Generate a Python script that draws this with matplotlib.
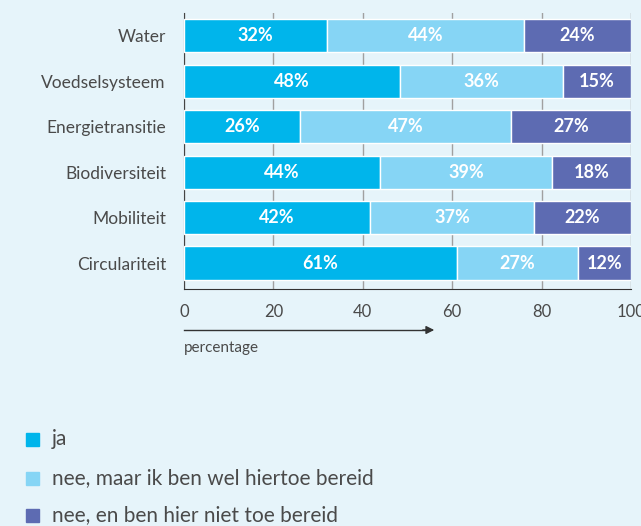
import matplotlib.pyplot as plt
from matplotlib.patches import Rectangle

plt.rcParams['font.family'] = ['Lato', 'DejaVu Sans']

categories = ["Water", "Voedselsysteem", "Energietransitie", "Biodiversiteit", "Mobiliteit", "Circulariteit"]
ja = [32.0, 48.4, 26.0, 43.8, 41.6, 61.1]
nee_bereid = [44.1, 36.4, 47.2, 38.6, 36.7, 27.0]
nee_niet = [23.9, 15.2, 26.8, 17.6, 21.7, 11.9]
series_names = ["ja", "nee, maar ik ben wel hiertoe bereid", "nee, en ben hier niet toe bereid"]
colors = ["#00b5eb", "#86d5f5", "#5d6bb2"]
bg = "#e6f4fa"
txt = "#4a4a4a"

fig = plt.figure(figsize=(6.41, 5.26), dpi=100, facecolor=bg)
ax = fig.add_axes([184/641, 1-289/526, (631-184)/641, (289-13)/526])
ax.set_facecolor(bg)

ypos = [len(categories)-1-i for i in range(len(categories))]
left = [0]*len(categories)
for vals, col in zip([ja, nee_bereid, nee_niet], colors):
    ax.barh(ypos, vals, left=left, height=0.73, color=col, edgecolor="white", linewidth=1, zorder=3)
    for y, l, v in zip(ypos, left, vals):
        ax.text(l+v/2, y, f"{v:.0f}%", ha="center", va="center", color="white",
                fontsize=13, fontweight="bold", zorder=4)
    left = [a+b for a, b in zip(left, vals)]

ax.set_xlim(0, 100)
ax.set_ylim(-0.57, 5.5)
ax.set_xticks([0, 20, 40, 60, 80, 100])
ax.set_yticks(ypos)
ax.set_yticklabels(categories, fontsize=12.5, color=txt)
ax.tick_params(axis="y", length=0, pad=13)
ax.tick_params(axis="x", length=0, pad=11, labelsize=12, labelcolor=txt)
ax.grid(axis="x", color="#a0a0a0", linewidth=1, zorder=0)
for s in ["top", "right"]:
    ax.spines[s].set_visible(False)
ax.spines["left"].set_color("#444444")
ax.spines["bottom"].set_color("#333333")

# arrow + axis caption
fig.add_artist(plt.Line2D([184/641, 0.67], [1-330/526]*2, color="#333333", lw=1))
ax.annotate("", xy=(437/641, 1-330/526), xytext=(420/641, 1-330/526), xycoords="figure fraction",
            arrowprops=dict(arrowstyle="-|>", color="#333333", lw=1, mutation_scale=12))
fig.text(184/641, 1-348/526, "percentage", fontsize=11, color=txt, va="center")

# legend
for name, col, yy in zip(series_names, colors, [439, 478, 515]):
    fig.add_artist(Rectangle((26/641, 1-(yy+7)/526), 13/641, 13/526, color=col, transform=fig.transFigure))
    fig.text(52/641, 1-yy/526, name, fontsize=15, color=txt, va="center")

fig.savefig("out.png", dpi=100, facecolor=bg)
